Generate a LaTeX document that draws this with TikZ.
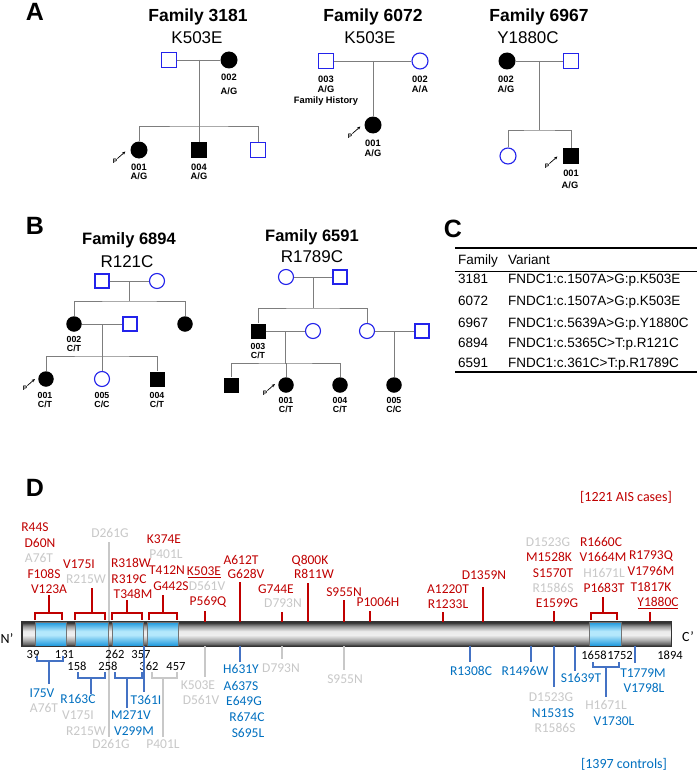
\documentclass[tikz,border=0pt]{standalone}
\usepackage{fontspec}
\setmainfont{Liberation Sans}
\newfontfamily\carl{Carlito}
\usetikzlibrary{arrows.meta}
\definecolor{pblue}{RGB}{35,35,235}
\definecolor{pline}{RGB}{125,125,125}
\definecolor{dred}{RGB}{192,0,0}
\definecolor{dblue}{RGB}{0,112,192}
\definecolor{lblue}{RGB}{68,114,196}
\definecolor{lgray}{RGB}{200,200,200}
\definecolor{domA}{RGB}{25,150,220}
\definecolor{domB}{RGB}{180,232,252}
\pgfdeclareverticalshading{barsh}{100bp}{color(0bp)=(black!85); color(25bp)=(black!85); color(29bp)=(black!60); color(38bp)=(black!30); color(48bp)=(black!6); color(56bp)=(black!8); color(66bp)=(black!40); color(72bp)=(black!70); color(75bp)=(black!90); color(100bp)=(black!90)}
\pgfdeclareverticalshading{domsh}{100bp}{color(0bp)=(domA); color(25bp)=(domA); color(48bp)=(domB); color(56bp)=(domB); color(75bp)=(domA); color(100bp)=(domA)}
\tikzset{
 ped/.style={draw=pline, line width=0.9pt},
 bsq/.style={rectangle, draw=pblue, line width=1.1pt, fill=white, minimum size=15pt, inner sep=0pt},
 bci/.style={circle, draw=pblue, line width=1.1pt, fill=white, minimum size=16pt, inner sep=0pt},
 fsq/.style={rectangle, fill=black, minimum size=16pt, inner sep=0pt},
 fci/.style={circle, fill=black, minimum size=17pt, inner sep=0pt},
 bsqs/.style={bsq, minimum size=14pt},
 bcis/.style={bci, minimum size=15pt},
 fsqs/.style={fsq, minimum size=15pt},
 fcis/.style={fci, minimum size=15.5pt},
 panel/.style={font=\bfseries\fontsize{25}{28}\selectfont, anchor=base, yshift=-9pt, inner sep=0pt},
 ttl/.style={font=\bfseries\fontsize{17.5}{20}\selectfont, anchor=base, yshift=-6.3pt, inner sep=0pt},
 ttls/.style={font=\bfseries\fontsize{16.5}{19}\selectfont, anchor=base, yshift=-5.9pt, inner sep=0pt},
 vrt/.style={font=\fontsize{17}{20}\selectfont, anchor=base, yshift=-6.1pt, inner sep=0pt},
 lab/.style={font=\bfseries\fontsize{9.3}{10}\selectfont, anchor=base, yshift=-3.3pt, inner sep=0pt},
 labs/.style={font=\bfseries\fontsize{8.8}{10}\selectfont, anchor=base, yshift=-3.1pt, inner sep=0pt},
 plab/.style={font=\bfseries\fontsize{6.5}{7}\selectfont, inner sep=0pt},
 parr/.style={-{Stealth[length=3.2pt,width=3pt]}, line width=0.7pt},
 tab/.style={font=\fontsize{13.5}{16}\selectfont, anchor=base west, yshift=-4.8pt, inner sep=0pt},
 ml/.style={font=\carl\fontsize{13.5}{15}\selectfont, anchor=base, yshift=-4.3pt, inner sep=0pt},
 mr/.style={ml, text=dred},
 mb/.style={ml, text=dblue},
 mg/.style={ml, text=lgray},
 num/.style={font=\carl\fontsize{12.5}{14}\selectfont, anchor=base, yshift=-4pt, inner sep=0pt},
 capt/.style={font=\carl\fontsize{14}{16}\selectfont, anchor=base, yshift=-4.5pt, inner sep=0pt},
 rl/.style={draw=dred, line width=1.4pt},
 bl/.style={draw=lblue, line width=1.4pt},
 gl/.style={draw=lgray, line width=1.4pt},
 dom/.style={draw=black!55, line width=0.5pt, minimum height=24pt, inner sep=0pt, shading=domsh},
}
\begin{document}
\begin{tikzpicture}[x=1pt,y=-1pt]
\useasboundingbox (0,0) rectangle (697,773);
\fill[white] (0,0) rectangle (697,773);

% ================= Panel A =================
\node[panel] (pA) at (35,11.5) {A};
% Family 3181
\node[ttl] (t1) at (198,15) {Family 3181};
\node[vrt] (v1) at (197,37) {K503E};
\node[bsq] (f1a) at (169,60) {};
\node[fci] (f1b) at (229,60) {};
\draw[ped] (f1a) -- (f1b);
\coordinate (f1j) at (199,60);
\coordinate (f1s) at (199,126);
\draw[ped] (f1j) -- (f1s);
\node[fci] (f1c) at (139,150) {};
\node[fsq] (f1d) at (199,150) {};
\node[bsq] (f1e) at (258,150) {};
\draw[ped] (f1c) |- (f1s) -| (f1e);
\draw[ped] (f1s) -- (f1d);
\node[lab] (f1l1) at (229,77.5) {002};
\node[lab] (f1l2) at (229,91) {A/G};
\node[lab] (f1l3) at (139,167) {001};
\node[lab] (f1l4) at (139,176.5) {A/G};
\node[lab] (f1l5) at (199,167) {004};
\node[lab] (f1l6) at (199,176.5) {A/G};
\node[plab] (f1p) at (115,161) {P};
\draw[parr] (f1p.north east) -- ++(8,-7);

% Family 6072
\node[ttl] (t2) at (373,15) {Family 6072};
\node[vrt] (v2) at (370,37) {K503E};
\node[bsq] (f2a) at (326,61) {};
\node[bci] (f2b) at (420,61) {};
\draw[ped] (f2a) -- (f2b);
\coordinate (f2j) at (373,61);
\node[fci] (f2c) at (373,125) {};
\draw[ped] (f2j) -- (f2c);
\node[lab] (f2l1) at (326,79.5) {003};
\node[lab] (f2l2) at (326,89.5) {A/G};
\node[lab] (f2l3) at (326,100.5) {Family History};
\node[lab] (f2l4) at (420,79.5) {002};
\node[lab] (f2l5) at (420,89.5) {A/A};
\node[lab] (f2l6) at (373,143) {001};
\node[lab] (f2l7) at (373,153) {A/G};
\node[plab] (f2p) at (350,136) {P};
\draw[parr] (f2p.north east) -- ++(8,-7);

% Family 6967
\node[ttl] (t3) at (539,15) {Family 6967};
\node[vrt] (v3) at (528,37) {Y1880C};
\node[fci] (f3a) at (507,61) {};
\node[bsq] (f3b) at (571,61) {};
\draw[ped] (f3a) -- (f3b);
\coordinate (f3j) at (539,61);
\coordinate (f3s) at (539,130);
\draw[ped] (f3j) -- (f3s);
\node[bci] (f3c) at (508,156) {};
\node[fsq] (f3d) at (571,156) {};
\draw[ped] (f3c) |- (f3s) -| (f3d);
\node[lab] (f3l1) at (506,79.5) {002};
\node[lab] (f3l2) at (506,89.5) {A/G};
\node[lab] (f3l3) at (571,173.5) {001};
\node[lab] (f3l4) at (570,185) {A/G};
\node[plab] (f3p) at (547,166) {P};
\draw[parr] (f3p.north east) -- ++(8,-7);

% ================= Panel B =================
\node[panel] (pB) at (35,225) {B};
% Family 6894
\node[ttls] (t4) at (129,239) {Family 6894};
\node[vrt] (v4) at (127,261) {R121C};
\node[bsqs] (f4a) at (102,281) {};
\node[bcis] (f4b) at (157,281) {};
\draw[ped] (f4a) -- (f4b);
\coordinate (f4j) at (129,281);
\coordinate (f4s) at (129,301);
\draw[ped] (f4j) -- (f4s);
\node[fcis] (f4c) at (74,324) {};
\node[fcis] (f4d) at (185,324) {};
\draw[ped] (f4c) |- (f4s) -| (f4d);
\node[bsqs] (f4e) at (130,324) {};
\draw[ped] (f4c) -- (f4e);
\coordinate (f4k) at (102,324);
\coordinate (f4t) at (102,356);
\draw[ped] (f4k) -- (f4t);
\node[fcis] (f4f) at (46,379) {};
\node[bcis] (f4g) at (102,379) {};
\node[fsqs] (f4h) at (157,379) {};
\draw[ped] (f4f) |- (f4t) -| (f4h);
\draw[ped] (f4t) -- (f4g);
\node[labs] (f4l1) at (74,339) {002};
\node[labs] (f4l2) at (74,348) {C/T};
\node[labs] (f4l3) at (45,395) {001};
\node[labs] (f4l4) at (45,404) {C/T};
\node[labs] (f4l5) at (102,395) {005};
\node[labs] (f4l6) at (102,404) {C/C};
\node[labs] (f4l7) at (157,395) {004};
\node[labs] (f4l8) at (157,404) {C/T};
\node[plab] (f4p) at (25,388) {P};
\draw[parr] (f4p.north east) -- ++(7.5,-6.5);

% Family 6591
\node[ttls] (t5) at (312,236) {Family 6591};
\node[vrt] (v5) at (312,256.5) {R1789C};
\node[bcis] (f5a) at (286,277) {};
\node[bsqs] (f5b) at (340,277) {};
\draw[ped] (f5a) -- (f5b);
\coordinate (f5j) at (313,277);
\coordinate (f5s) at (313,308);
\draw[ped] (f5j) -- (f5s);
\node[fsqs] (f5c) at (258,331) {};
\node[bcis] (f5d) at (313,331) {};
\node[bcis] (f5e) at (367,331) {};
\node[bsqs] (f5f) at (422,331) {};
\draw[ped] (f5c) |- (f5s) -| (f5e);
\draw[ped] (f5c) -- (f5d);
\draw[ped] (f5e) -- (f5f);
\coordinate (f5k) at (285,331);
\coordinate (f5t) at (285,363);
\draw[ped] (f5k) -- (f5t);
\coordinate (f5m) at (394,331);
\node[fsqs] (f5g) at (231,385) {};
\node[fcis] (f5h) at (286,385) {};
\node[fcis] (f5i) at (340,385) {};
\node[fcis] (f5n) at (394,385) {};
\draw[ped] (f5g) |- (f5t) -| (f5i);
\draw[ped] (f5t) -| (f5h);
\draw[ped] (f5m) -- (f5n);
\node[labs] (f5l1) at (258,346) {003};
\node[labs] (f5l2) at (258,355) {C/T};
\node[labs] (f5l3) at (286,400) {001};
\node[labs] (f5l4) at (286,409) {C/T};
\node[labs] (f5l5) at (340,400) {004};
\node[labs] (f5l6) at (340,409) {C/T};
\node[labs] (f5l7) at (394,400) {005};
\node[labs] (f5l8) at (394,409) {C/C};
\node[plab] (f5p) at (265,393) {P};
\draw[parr] (f5p.north east) -- ++(7.5,-6.5);

% ================= Panel C =================
\node[panel] (pC) at (453,228) {C};
\draw[line width=1.3pt] (455,248) -- (697,248);
\draw[line width=0.7pt] (455,271) -- (697,271);
\draw[line width=1.3pt] (455,372) -- (697,372);
\node[tab] (h1) at (458,260) {Family};
\node[tab] (h2) at (508,260) {Variant};
\node[tab] (r1a) at (458,279) {3181};
\node[tab] (r1b) at (508,279) {FNDC1:c.1507A>G:p.K503E};
\node[tab] (r2a) at (458,301) {6072};
\node[tab] (r2b) at (508,301) {FNDC1:c.1507A>G:p.K503E};
\node[tab] (r3a) at (458,322.5) {6967};
\node[tab] (r3b) at (508,322.5) {FNDC1:c.5639A>G:p.Y1880C};
\node[tab] (r4a) at (458,343) {6894};
\node[tab] (r4b) at (508,343) {FNDC1:c.5365C>T:p.R121C};
\node[tab] (r5a) at (458,362.5) {6591};
\node[tab] (r5b) at (508,362.5) {FNDC1:c.361C>T:p.R1789C};

% ================= Panel D =================
\node[panel] (pD) at (35,487) {D};
\node[capt, text=dred] (cases) at (626,497) {[1221 AIS cases]};
\node[capt, text=dblue] (ctrls) at (624,764) {[1397 controls]};

% gray lines through
\draw[gl] (109,542) -- (109,622);
\draw[gl] (109,646) -- (109,737);

% protein bar
\node[draw=black!80, line width=0.6pt, minimum width=649pt, minimum height=24pt, inner sep=0pt, shading=barsh] (bar) at (346.5,634) {};
\node[dom, minimum width=31pt] (dm1) at (50.5,634) {};
\node[dom, minimum width=33pt] (dm2) at (91.5,634) {};
\node[dom, minimum width=31pt] (dm3) at (127.5,634) {};
\node[dom, minimum width=31pt] (dm4) at (162.5,634) {};
\node[dom, minimum width=32pt] (dm5) at (605,634) {};
\draw[black!80, line width=0.6pt] (bar.north west) rectangle (bar.south east);
\node[capt] (nt) at (7,639) {N’};
\node[capt] (ct) at (688,637) {C’};

% numbers
\node[num] (n39) at (33,654.5) {39};
\node[num] (n131) at (64.5,654.5) {131};
\node[num] (n158) at (77,666) {158};
\node[num] (n258) at (108,666) {258};
\node[num] (n262) at (115,654.5) {262};
\node[num] (n357) at (141,654.5) {357};
\node[num] (n362) at (149,666) {362};
\node[num] (n457) at (176,666) {457};
\node[num] (n1658) at (594,655) {1658};
\node[num] (n1752) at (620,655) {1752};
\node[num] (n1894) at (670,655) {1894};

% ---- cases (above) ----
\node[mr] (a44) at (35,527) {R44S};
\node[mr] (a60) at (40,543) {D60N};
\node[mg] (a76) at (39,558) {A76T};
\node[mr] (a108) at (44,574) {F108S};
\node[mr] (a123) at (49,589) {V123A};
\node[mr] (a175) at (79,564) {V175I};
\node[mg] (a215) at (86,579) {R215W};
\node[mg] (a261) at (110,533) {D261G};
\node[mr] (a318) at (131,563) {R318W};
\node[mr] (a319) at (129,579) {R319C};
\node[mr] (a348) at (133,594) {T348M};
\node[mr] (a374) at (164,539) {K374E};
\node[mg] (a401) at (166,554) {P401L};
\node[mr] (a412) at (167,570) {T412N};
\node[mr] (a442) at (171,586) {G442S};
\node[mr] (a503) at (204,571) {K503E};
\draw[draw=dred, line width=0.9pt] (188,577.5) -- (221,577.5);
\node[mg] (a561) at (207,586) {D561V};
\node[mr] (a569) at (208,601) {P569Q};
\node[mr] (a612) at (241,560) {A612T};
\node[mr] (a628) at (246,574) {G628V};
\node[mr] (a744) at (276,589) {G744E};
\node[mg] (a793) at (283,603) {D793N};
\node[mr] (a800) at (310,560) {Q800K};
\node[mr] (a811) at (314,574) {R811W};
\node[mr] (a955) at (344,592) {S955N};
\node[mr] (a1006) at (378,602) {P1006H};
\node[mr] (a1220) at (448,589) {A1220T};
\node[mr] (a1233) at (448,604) {R1233L};
\node[mr] (a1359) at (484,575) {D1359N};
\node[mg] (a1523) at (548,542) {D1523G};
\node[mr] (a1528) at (549,557) {M1528K};
\node[mr] (a1570) at (553,573) {S1570T};
\node[mg] (a1586) at (553,588) {R1586S};
\node[mr] (a1599) at (557,603) {E1599G};
\node[mr] (a1660) at (601,542) {R1660C};
\node[mr] (a1664) at (603,557) {V1664M};
\node[mg] (a1671) at (604,573) {H1671L};
\node[mr] (a1683) at (604,588) {P1683T};
\node[mr] (a1793) at (651,555) {R1793Q};
\node[mr] (a1796) at (651,571) {V1796M};
\node[mr] (a1817) at (651,587) {T1817K};
\node[mr] (a1880) at (658,602) {Y1880C};
\draw[draw=dred, line width=0.9pt] (638,608.5) -- (678,608.5);

% red brackets and ticks
\draw[rl] (35,620) -- (35,613) -- (62,613) -- (62,620);
\draw[rl] (49,613) -- (49,595);
\draw[rl] (75,620) -- (75,613) -- (105,613) -- (105,620);
\draw[rl] (92,613) -- (92,588);
\draw[rl] (112,620) -- (112,613) -- (142,613) -- (142,620);
\draw[rl] (127,613) -- (127,600);
\draw[rl] (149,620) -- (149,613) -- (177,613) -- (177,620);
\draw[rl] (163,613) -- (163,595);
\draw[rl] (205,611) -- (205,622);
\draw[rl] (240,582) -- (240,622);
\draw[rl] (282,612) -- (282,622);
\draw[rl] (308,583) -- (308,622);
\draw[rl] (344,600) -- (344,622);
\draw[rl] (370,611) -- (370,622);
\draw[rl] (443,612) -- (443,622);
\draw[rl] (483,587) -- (483,622);
\draw[rl] (554,611) -- (554,622);
\draw[rl] (591,620) -- (591,613) -- (617,613) -- (617,620);
\draw[rl] (603,613) -- (603,597);
\draw[rl] (650,612) -- (650,622);

% ---- controls (below) ----
\node[mb] (b75) at (42,693) {I75V};
\node[mg] (b76) at (44,708) {A76T};
\node[mb] (b163) at (78,699) {R163C};
\node[mg] (b175) at (78,715) {V175I};
\node[mg] (b215) at (86,731) {R215W};
\node[mg] (b261) at (111,744) {D261G};
\node[mb] (b361) at (146,700) {T361I};
\node[mb] (b271) at (131,715) {M271V};
\node[mb] (b299) at (134,731) {V299M};
\node[mg] (b401) at (163,744) {P401L};
\node[mg] (b503) at (198,685) {K503E};
\node[mg] (b561) at (201,700) {D561V};
\node[mb] (b631) at (241,669) {H631Y};
\node[mb] (b637) at (241,686) {A637S};
\node[mb] (b649) at (244,701) {E649G};
\node[mb] (b674) at (247,717) {R674C};
\node[mb] (b695) at (248,733) {S695L};
\node[mg] (b793) at (281,668) {D793N};
\node[mg] (b955) at (345,679) {S955N};
\node[mb] (b1308) at (471,671) {R1308C};
\node[mb] (b1496) at (525,671) {R1496W};
\node[mg] (b1523) at (551,697) {D1523G};
\node[mb] (b1531) at (553,713) {N1531S};
\node[mg] (b1586) at (555,728) {R1586S};
\node[mb] (b1639) at (581,678) {S1639T};
\node[mg] (b1671) at (606,705) {H1671L};
\node[mb] (b1730) at (614,721) {V1730L};
\node[mb] (b1779) at (643,673) {T1779M};
\node[mb] (b1798) at (644,688) {V1798L};

\draw[bl] (37,656) -- (37,661) -- (63,661) -- (63,656);
\draw[bl] (49,661) -- (49,684);
\draw[bl] (78,672) -- (78,678) -- (105,678) -- (105,672);
\draw[bl] (91,678) -- (91,694);
\draw[bl] (115,672) -- (115,678) -- (142,678) -- (142,672);
\draw[bl] (127,678) -- (127,708);
\draw[gl] (152,672) -- (152,678) -- (177,678) -- (177,672);
\draw[gl] (163,678) -- (163,737);
\draw[bl] (144,646) -- (144,692);
\draw[gl] (205,646) -- (205,677);
\draw[bl] (240,646) -- (240,662);
\draw[gl] (282,646) -- (282,659);
\draw[gl] (344,646) -- (344,670);
\draw[bl] (470,646) -- (470,662);
\draw[bl] (531,646) -- (531,662);
\draw[bl] (554,646) -- (554,687);
\draw[bl] (575,646) -- (575,671);
\draw[bl] (593,662) -- (593,667) -- (619,667) -- (619,662);
\draw[bl] (606,667) -- (606,697);
\draw[bl] (635,646) -- (635,663);
\end{tikzpicture}
\end{document}
